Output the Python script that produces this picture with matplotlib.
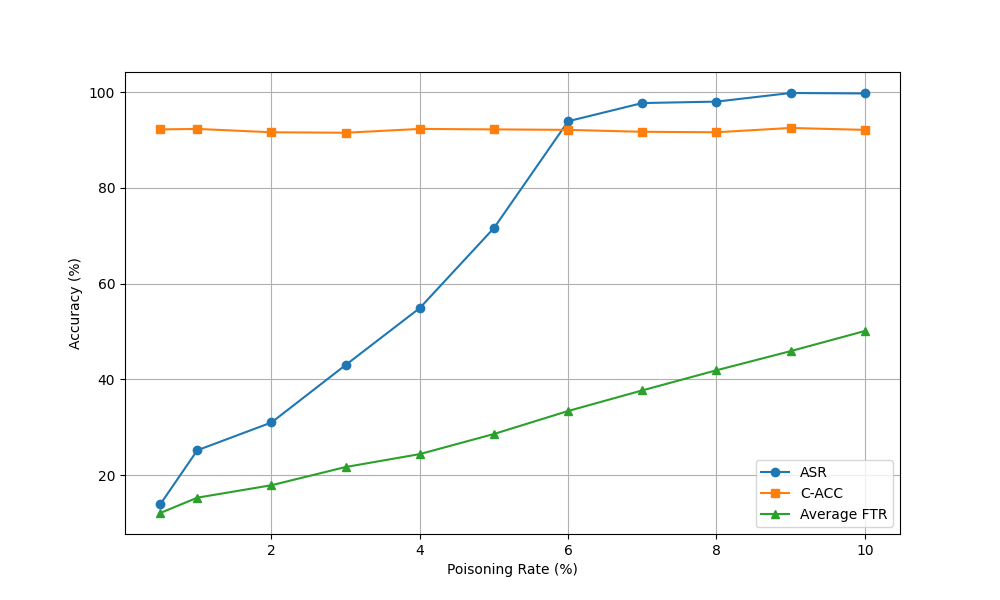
import matplotlib
matplotlib.use('Agg')
import matplotlib.pyplot as plt

# Poisoning rates (%)
rates = [0.5, 1, 2, 3, 4, 5, 6, 7, 8, 9, 10]

# Metric values (%)
asr = [13.9, 25.2, 31.0, 43.0, 54.9, 71.6, 93.9, 97.7, 98.0, 99.8, 99.7]
c_acc = [92.2, 92.3, 91.6, 91.5, 92.3, 92.2, 92.1, 91.7, 91.6, 92.5, 92.1]
avg_ftr = [12.1, 15.3, 17.9, 21.7, 24.4, 28.6, 33.4, 37.7, 41.9, 45.9, 50.1]

fig, ax = plt.subplots(figsize=(10, 6), dpi=100)

ax.plot(rates, asr, marker='o', label='ASR')
ax.plot(rates, c_acc, marker='s', label='C-ACC')
ax.plot(rates, avg_ftr, marker='^', label='Average FTR')

ax.set_xlabel('Poisoning Rate (%)')
ax.set_ylabel('Accuracy (%)')
ax.grid(True)
ax.legend(loc='lower right')

plt.savefig('out.png', dpi=100)
